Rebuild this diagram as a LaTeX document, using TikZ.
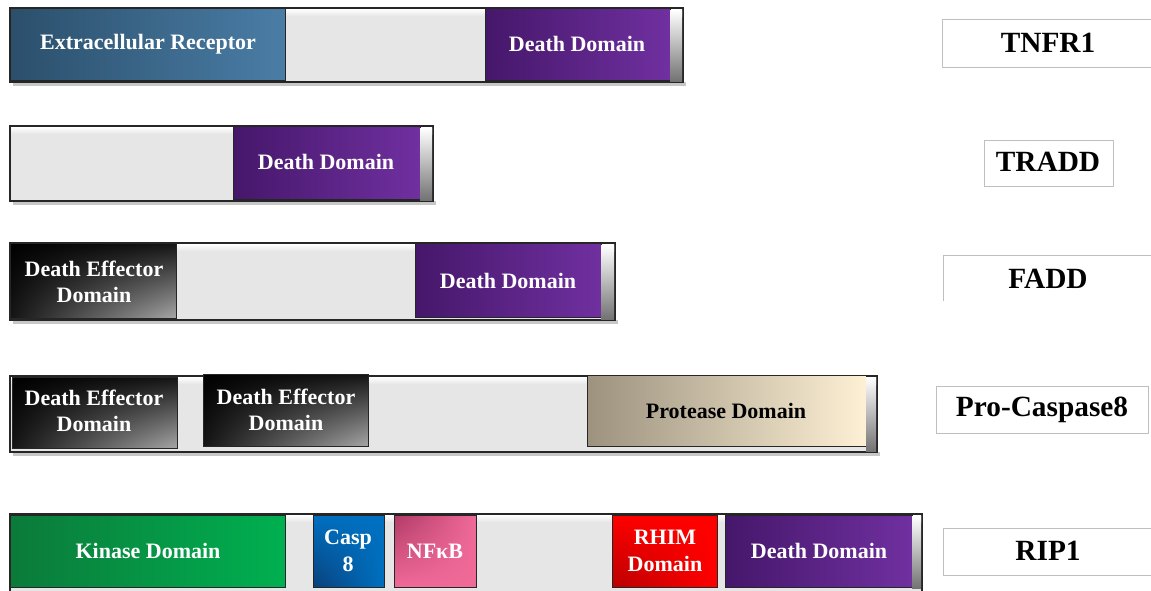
\documentclass[tikz,border=0pt]{standalone}
\usepackage{fontspec}
\setmainfont{Liberation Serif}
\usetikzlibrary{shadings}

% domain colours
\definecolor{ecrA}{HTML}{2B4F6B}
\definecolor{ecrB}{HTML}{4A7DA6}
\definecolor{ddA}{HTML}{45176A}
\definecolor{ddB}{HTML}{7030A0}
\definecolor{protA}{HTML}{9C927E}
\definecolor{protB}{HTML}{FDF0D5}
\definecolor{kinA}{HTML}{0B7A3A}
\definecolor{kinB}{HTML}{00B050}
\definecolor{caspA}{HTML}{0A3F7A}
\definecolor{caspB}{HTML}{0070C0}
\definecolor{nfkA}{HTML}{B03A66}
\definecolor{nfkB}{HTML}{F06A98}
\definecolor{rhimA}{HTML}{B80000}
\definecolor{rhimB}{HTML}{FF0000}
\definecolor{linker}{HTML}{E6E6E6}

\begin{document}
\begin{tikzpicture}[x=0.75pt, y=-0.75pt,
    protbar/.style={fill=linker, draw=black!85, line width=0.8pt},
    barshadow/.style={fill=black!22},
    endcap/.style={top color=white, bottom color=black!55},
    dom/.style={draw=black!85, line width=0.6pt},
    ded/.style={dom, upper left=black, upper right=black!92, lower left=black!92, lower right=black!35},
    dd/.style={dom, left color=ddA, right color=ddB},
    lbl/.style={text=white, font=\fontsize{16.5}{20}\selectfont\bfseries, align=center},
    protlabel/.style={font=\fontsize{22}{24}\selectfont\bfseries},
    tagbox/.style={draw=black!25, line width=0.6pt}
  ]
  \useasboundingbox (0,0) rectangle (1151,590);

  % TNFR1
  \fill[barshadow] (13,82) rectangle (686,86);
  \draw[protbar] (10,8) rectangle (683,82);
  \shade[top color=white, bottom color=linker] (11,9) rectangle (682,16);
  \shadedraw[dom, left color=ecrA, right color=ecrB] (10,8) rectangle (285,80);
  \shadedraw[dd] (485,8) rectangle (670,80);
  \shade[endcap] (670,10) rectangle (682,81);
  \node[lbl] (ecr) at (148,44) {Extracellular Receptor};
  \node[lbl] (dd1) at (577,44) {Death Domain};
  \draw[tagbox] (942,19) rectangle (1155,67);
  \node[protlabel] (tnfr) at (1048,43) {TNFR1};

  % TRADD
  \fill[barshadow] (13,201) rectangle (436,205);
  \draw[protbar] (10,126) rectangle (433,201);
  \shade[top color=white, bottom color=linker] (11,127) rectangle (432,134);
  \shadedraw[dd] (233,126) rectangle (420,199);
  \shade[endcap] (420,128) rectangle (432,200);
  \node[lbl] (dd2) at (326,162) {Death Domain};
  \draw[tagbox] (984,140) rectangle (1113,186);
  \node[protlabel] (tradd) at (1048,162) {TRADD};

  % FADD
  \fill[barshadow] (13,320) rectangle (618,324);
  \draw[protbar] (10,243) rectangle (615,320);
  \shade[top color=white, bottom color=linker] (11,244) rectangle (614,251);
  \shadedraw[ded] (10,243) rectangle (176,318);
  \shadedraw[dd] (415,243) rectangle (601,317);
  \shade[endcap] (601,245) rectangle (614,319);
  \node[lbl] (ded1) at (94,282) {Death Effector\\Domain};
  \node[lbl] (dd3) at (508,281) {Death Domain};
  \draw[tagbox] (943,301) -- (943,255) -- (1155,255);
  \node[protlabel] (fadd) at (1048,279) {FADD};

  % Pro-Caspase8
  \fill[barshadow] (13,452) rectangle (880,456);
  \draw[protbar] (10,376) rectangle (877,452);
  \shade[top color=white, bottom color=linker] (11,377) rectangle (876,384);
  \shadedraw[ded] (12,377) rectangle (177,448);
  \shadedraw[ded] (203,374) rectangle (368,446);
  \shadedraw[dom, left color=protA, right color=protB] (587,375) rectangle (866,446);
  \shade[endcap] (866,377) rectangle (876,451);
  \node[lbl] (ded2) at (94,411) {Death Effector\\Domain};
  \node[lbl] (ded3) at (286,410) {Death Effector\\Domain};
  \node[lbl, text=black] (prot) at (726,411) {Protease Domain};
  \draw[tagbox] (936,386) rectangle (1148,433);
  \node[protlabel] (casp) at (1042,410) {Pro-Caspase8};

  % RIP1
  \draw[protbar] (10,514) rectangle (922,594);
  \shade[top color=white, bottom color=linker] (11,515) rectangle (921,522);
  \shadedraw[dom, left color=kinA, right color=kinB] (10,515) rectangle (285,587);
  \shadedraw[dom, upper left=caspB, upper right=caspB, lower left=caspA, lower right=caspB] (313,515) rectangle (384,587);
  \shadedraw[dom, upper left=nfkA, upper right=nfkB, lower left=nfkB, lower right=nfkB] (394,515) rectangle (476,587);
  \shadedraw[dom, upper left=rhimB, upper right=rhimB, lower left=rhimA, lower right=rhimB] (612,515) rectangle (717,587);
  \shadedraw[dd] (725,515) rectangle (912,587);
  \shade[endcap] (912,516) rectangle (921,588);
  \node[lbl] (kin) at (148,551) {Kinase Domain};
  \node[lbl] (c8) at (348,551) {Casp\\8};
  \node[lbl] (nfk) at (435,551) {NFκB};
  \node[lbl] (rhim) at (665,551) {RHIM\\Domain};
  \node[lbl] (dd4) at (819,551) {Death Domain};
  \draw[tagbox] (943,528) rectangle (1155,575);
  \node[protlabel] (rip) at (1048,551) {RIP1};
\end{tikzpicture}
\end{document}
